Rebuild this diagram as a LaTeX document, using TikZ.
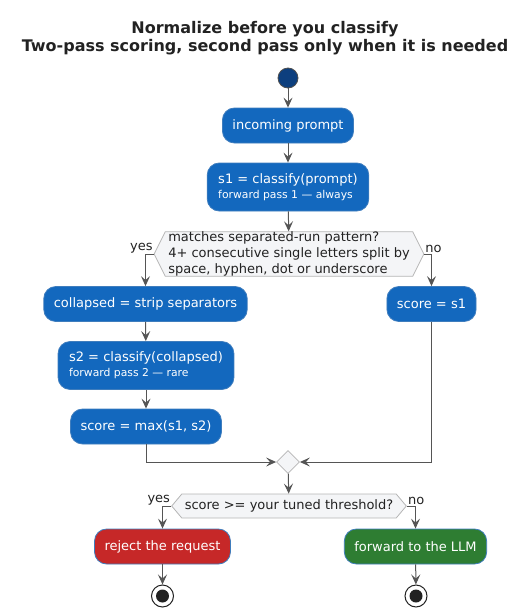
\documentclass[tikz,border=0pt]{standalone}
\usepackage{fontspec}
\setmainfont{DejaVu Sans}
\usetikzlibrary{arrows.meta,shapes.geometric,shapes.symbols}
\definecolor{ink}{HTML}{222222}
\definecolor{wire}{HTML}{555555}
\definecolor{act}{HTML}{1368BE}
\definecolor{actedge}{HTML}{3F7DBD}
\definecolor{stopred}{HTML}{C62828}
\definecolor{gogreen}{HTML}{2E7D32}
\definecolor{navy}{HTML}{0D3F7E}
\definecolor{pale}{HTML}{F4F5F7}
\definecolor{rim}{HTML}{B5B5B5}
\newcommand{\subline}[1]{{\fontsize{10.8}{13}\selectfont #1}}
\tikzset{
  box/.style={draw=actedge, fill=act, line width=0.8pt, rounded corners=12pt, text=white,
    font=\fontsize{13}{15}\selectfont, minimum height=35pt, inner xsep=10pt},
  box2/.style={box, align=left, minimum height=48pt, inner xsep=11pt},
  ask/.style={signal, signal to=west and east, draw=rim, fill=pale, line width=0.8pt,
    text=ink, inner xsep=3pt, inner ysep=0pt},
  flow/.style={draw=wire, line width=1pt, -{Stealth[length=10pt,width=9pt,inset=4pt]}},
  lab/.style={text=ink, font=\fontsize{13}{15}\selectfont, inner sep=1pt},
  startpt/.style={circle, fill=navy, draw=ink!80, line width=0.8pt, minimum size=20pt, inner sep=0pt},
  endpt/.style={circle, fill=white, draw=ink, line width=1pt, minimum size=22pt, inner sep=0pt,
    path picture={\fill[ink] (path picture bounding box.center) circle (6.5pt);}},
}

\begin{document}
\begin{tikzpicture}[x=1pt,y=1pt]
  \useasboundingbox (0,0) rectangle (530,-616);
  % title
  \node[text=ink, align=center, font=\fontsize{16}{18}\selectfont\bfseries] (title) at (265,-38)
    {Normalize before you classify\\Two-pass scoring, second pass only when it is needed};
  % first pass
  \node[startpt] (start) at (288,-78) {};
  \node[box] (prompt) at (288,-125.5) {incoming prompt};
  \node[box2] (cls1) at (288,-187) {s1 = classify(prompt)\\\subline{forward pass 1 — always}};
  \node[ask, align=left, font=\fontsize{13}{16}\selectfont, minimum height=44pt,
    signal pointer angle=127] (ask1) at (289,-254)
    {matches separated-run pattern?\\4+ consecutive single letters split by\\space, hyphen, dot or underscore};
  \node[lab, anchor=south east] at (ask1.west) {yes};
  \node[lab, anchor=south west] at (ask1.east) {no};
  % branches
  \node[box] (strip) at (145.5,-304) {collapsed = strip separators};
  \node[box2] (cls2) at (146,-365.5) {s2 = classify(collapsed)\\\subline{forward pass 2 — rare}};
  \node[box] (maxs) at (146,-426.5) {score = max(s1, s2)};
  \node[box] (keep) at (431.5,-304) {score = s1};
  \node[diamond, draw=rim, fill=pale, line width=0.8pt, minimum width=23pt, minimum height=23pt,
    inner sep=0pt] (merge) at (288,-462) {};
  % threshold
  \node[ask, font=\fontsize{13}{15}\selectfont, minimum height=24pt,
    signal pointer angle=100] (ask2) at (289,-506) {score >= your tuned threshold?};
  \node[lab, anchor=south east] at (ask2.west) {yes};
  \node[lab, anchor=south west] at (ask2.east) {no};
  \node[box, fill=stopred] (reject) at (162.5,-546.5) {reject the request};
  \node[box, fill=gogreen] (fwd) at (415.5,-546.5) {forward to the LLM};
  \node[endpt] (endl) at (162.5,-596) {};
  \node[endpt] (endr) at (416,-596) {};
  % connectors
  \draw[flow] (start) -- (prompt);
  \draw[flow] (prompt) -- (cls1);
  \draw[flow] (cls1) -- (ask1);
  \draw[flow] (ask1.west) -| (strip.north);
  \draw[flow] (ask1.east) -| (keep.north);
  \draw[flow] (strip) -- (cls2);
  \draw[flow] (cls2) -- (maxs);
  \draw[flow] (maxs.south) |- (merge.west);
  \draw[flow] (keep.south) |- (merge.east);
  \draw[flow] (merge) -- (ask2);
  \draw[flow] (ask2.west) -| (reject.north);
  \draw[flow] (ask2.east) -| (fwd.north);
  \draw[flow] (reject) -- (endl);
  \draw[flow] (fwd) -- (endr);
\end{tikzpicture}
\end{document}
